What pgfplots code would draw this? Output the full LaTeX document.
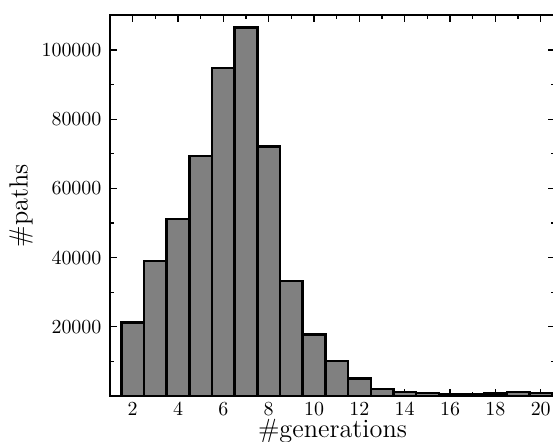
\documentclass[border=0pt]{standalone}
\usepackage{pgfplots}
\pgfplotsset{compat=1.18}

\begin{document}
\begin{tikzpicture}
	\begin{axis}[
		scale only axis,
		width=222.5bp,
		height=190.5bp,
		xmin=1, xmax=20.63,
		ymin=0, ymax=110100,
		axis line style={line width=0.8pt},
		tick align=inside,
		xtick pos=both, ytick pos=both,
		xtick={2,4,...,20},
		minor xtick={1,3,...,21},
		ytick={20000,40000,...,100000},
		minor ytick={10000,30000,...,90000},
		major tick length=3.5bp,
		minor tick length=2bp,
		every tick/.style={black, line width=0.6pt},
		scaled y ticks=false,
		yticklabel style={/pgf/number format/fixed, /pgf/number format/1000 sep={}, xshift=-0.8bp},
		tick label style={font=\fontsize{10}{12}\selectfont},
		label style={font=\fontsize{13.2}{15}\selectfont},
		xlabel={\#generations},
		ylabel={\#paths},
		xlabel style={at={(axis description cs:0.5,0)}, anchor=base, yshift=-20.5bp},
		ylabel style={at={(axis description cs:-0.173,0.5)}, anchor=south, inner sep=0pt},
	]
		\addplot[ybar, bar width=1, bar shift=0, fill=gray, draw=black, line width=1.2pt]
			coordinates {
			(2,21200)
			(3,39000)
			(4,51100)
			(5,69400)
			(6,94700)
			(7,106500)
			(8,72100)
			(9,33200)
			(10,17800)
			(11,10200)
			(12,5100)
			(13,2000)
			(14,1200)
			(15,800)
			(16,500)
			(17,500)
			(18,700)
			(19,1100)
			(20,800)
			(21,600)
			};
	\end{axis}
	\pgfresetboundingbox
	\useasboundingbox (-55bp,-23bp) rectangle (221.5bp,198bp);
\end{tikzpicture}
\end{document}
